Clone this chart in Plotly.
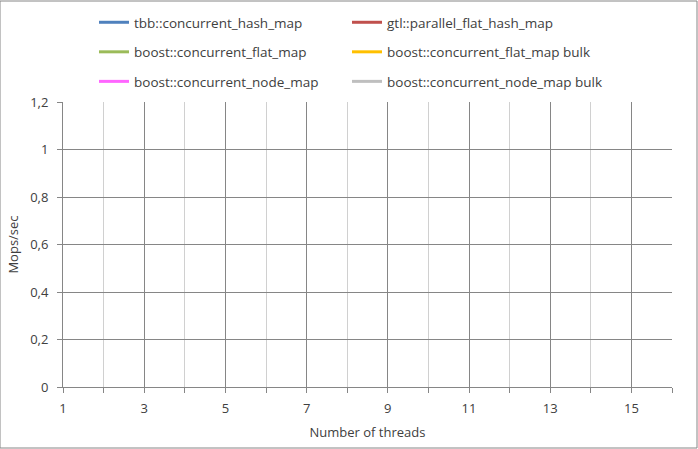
import plotly.graph_objects as go

threads = list(range(1, 17))
series_names = [
    "tbb::concurrent_hash_map",
    "gtl::parallel_flat_hash_map",
    "boost::concurrent_flat_map",
    "boost::concurrent_flat_map bulk",
    "boost::concurrent_node_map",
    "boost::concurrent_node_map bulk",
]
series_colors = ["#4F81BD", "#C0504D", "#9BBB59", "#FFC000", "#FF66FF", "#BFBFBF"]
# The reference shows no plotted values: every series is empty
series_values = [[None] * len(threads) for _ in series_names]
x_ticks = [1, 3, 5, 7, 9, 11, 13, 15]
y_ticks = [0, 0.2, 0.4, 0.6, 0.8, 1.0, 1.2]
y_labels = ["0", "0,2", "0,4", "0,6", "0,8", "1", "1,2"]

L, R, T, B = 63, 26, 102, 62
W, H = 698, 449
PW, PH = W - L - R, H - T - B
font = "Open Sans"
txt = "#404040"
grid = "#868686"

fig = go.Figure()
# left column: series 0, 2, 4 ; right column: series 1, 3, 5
for i, (name, color, vals) in enumerate(zip(series_names, series_colors, series_values)):
    fig.add_trace(go.Scatter(x=threads, y=vals, mode="lines", name=name,
                             legendgroup="g%d" % i,
                             legend="legend" if i % 2 == 0 else "legend2",
                             line=dict(color=color, width=3)))

leg_common = dict(orientation="v", yanchor="top", xanchor="left",
                  tracegroupgap=9, itemwidth=30, bgcolor="rgba(0,0,0,0)",
                  font=dict(family=font, size=13.5, color=txt))
top = (PH + T - 7) / PH
fig.update_layout(
    width=W, height=H,
    margin=dict(l=L, r=R, t=T, b=B, autoexpand=False),
    paper_bgcolor="white", plot_bgcolor="white",
    font=dict(family=font, size=13, color=txt),
    showlegend=True,
    legend=dict(x=(94 - L) / PW, y=top, **leg_common),
    legend2=dict(x=(347 - L) / PW, y=top, **leg_common),
)
fig.add_shape(type="rect", xref="paper", yref="paper",
              x0=-L / PW, x1=(PW + R - 1) / PW, y0=-(B - 1) / PH, y1=(PH + T - 1) / PH,
              line=dict(color=grid, width=1))

fig.update_xaxes(
    range=[1, 16], tickmode="array", tickvals=x_ticks, ticktext=[str(v) for v in x_ticks],
    showgrid=True, gridcolor=grid, gridwidth=1,
    minor=dict(dtick=1, tick0=1, showgrid=True, gridcolor="#D0D0D0", gridwidth=1,
               ticks="outside", ticklen=5, tickcolor=grid),
    showline=True, linecolor=grid, linewidth=1,
    ticks="outside", ticklen=5, tickcolor=grid, ticklabelstandoff=4,
    zeroline=False, tickfont=dict(size=13, color=txt),
    title=dict(text="Number of threads", font=dict(size=13, color=txt), standoff=12),
)
fig.update_yaxes(
    range=[0, 1.2], tickmode="array", tickvals=y_ticks, ticktext=y_labels,
    showgrid=True, gridcolor=grid, gridwidth=1,
    showline=True, linecolor=grid, linewidth=1,
    ticks="outside", ticklen=5, tickcolor=grid, ticklabelstandoff=6,
    zeroline=False, tickfont=dict(size=13, color=txt),
    title=dict(text="Mops/sec", font=dict(size=13, color=txt), standoff=8),
)
fig.write_html("out.html")
